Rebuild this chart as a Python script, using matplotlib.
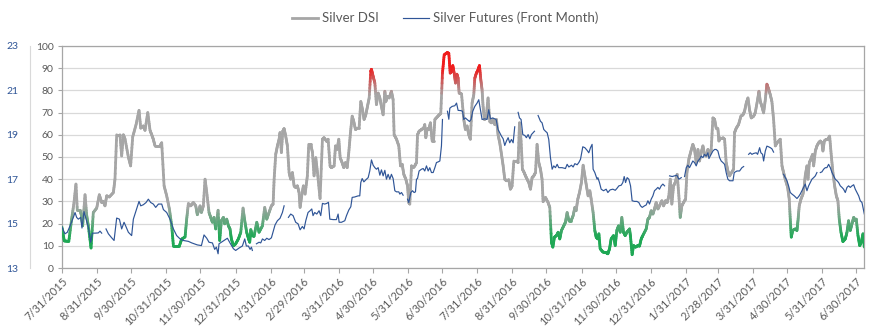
import numpy as np
import matplotlib
matplotlib.use("Agg")
import matplotlib.pyplot as plt
import matplotlib.dates as mdates
from matplotlib.collections import LineCollection
from matplotlib.lines import Line2D
from matplotlib.colors import to_rgb

plt.rcParams['font.family'] = ['Lato', 'DejaVu Sans']

nan = np.nan
start_date = np.datetime64('2015-07-31')

# ---- Silver DSI (days since 7/31/2015, value) ----
dsi_days = [0, 2, 6, 8.5, 10.6, 12.3, 13.5, 15.9, 17, 18.2, 20.3, 21.8, 23.2, 25.6, 27.6, 30.6, 32.9, 35, 36.4, 37.9,
            39.4, 41.7, 45.3, 46.7, 48.2, 51.1, 52.6, 54.1, 55.6, 58.5, 60.5, 62.3, 65.3, 67.9, 69.4, 71.7, 73.2, 75.6,
            77.6, 79.1, 80.5, 82, 86.4, 87.9, 90, 92.3, 94.7, 96.7, 98.2, 103.5, 105.5, 108.5, 109.9, 111.4, 113.5, 115.8,
            117.9, 119.3, 121.7, 122.9, 124.6, 126.1, 127.6, 129.6, 131.1, 132.6, 134, 135.5, 137.6, 139, 140.5, 142.3,
            143.4, 145.2, 146.7, 148.1, 149.3, 151.1, 153.1, 155.5, 157.6, 159.6, 161.1, 162.8, 164.3, 165.5, 166.4,
            167.8, 169.3, 171.7, 173.7, 176.7, 178.7, 180.5, 182.5, 184.6, 186.1, 187, 188.4, 189.9, 191.4, 192.2, 193.4,
            194.6, 195.8, 197.2, 198.7, 200.2, 201.6, 203.1, 204.6, 206, 207.5, 209, 209.9, 211.3, 212.8, 214.3, 216.3,
            217.5, 219.3, 220.8, 222.2, 223.7, 225.2, 227.5, 229.6, 231, 233.4, 234.6, 236.3,
            237.5, 239.9, 241.1, 242.5, 244, 245.2, 246.9, 248.4, 249.9, 251.4, 252.8, 254.3, 255.8, 257.2, 258.7, 260.5,
            261.9, 263.4, 264.9, 266.3, 267.8, 269.3, 270.8, 272.2, 272.8, 274.3, 275.8, 277.2, 278.7, 280.2, 281.6,
            283.1, 284.6, 285.5, 286.9, 288.4, 290.4, 291.9, 292.8, 294.9, 296.9, 298.4, 299.9, 301.3, 303.1, 304.6,
            305.7, 306.6, 308.1, 309.6, 311, 312.5, 313.4, 314.8, 316.9, 318.9, 319.8, 320.7, 321.9, 323.4, 324.8, 326.3,
            327.5, 328.7, 330.7, 332.5, 333.9, 335.4, 336.9, 339.5, 341, 342.2, 343.4, 344.5, 345.7, 346.9, 348.1, 349.2,
            350.1, 352.2,
            354.2, 355.6, 357.1, 358.6, 360, 361.5, 363, 363.9, 365.3, 366.8, 368, 369.2, 370.3, 371.2, 372.4, 373.9,
            375.6, 377.1, 378.6, 380, 381.5, 383, 384.4, 385.9, 387.4, 388.9, 390.3, 391.8, 393.9, 395.3, 396.8, 398.3,
            400.6, 402.1, 403.3, 404.7, 405.9, 407.4, 408.6, 410, 411.5, 413, 414.4, 415.9, 417.4, 418.8, 420.3, 421.8,
            423.2, 424.1, 426.2, 428.5, 430, 431.5, 432.7, 434.1, 435.9, 437.4, 438.8, 440.3, 442.3, 443.8, 445.3, 446.8,
            448.8, 450.6, 452.1, 453.2, 454.7, 456.2, 457.9, 459.4, 460.9, 462.3, 463.8, 465.3, 466.5, 468.2, 469.7,
            470.9, 472.4, 473.3, 474.4, 476.8, 479.7, 481.2, 482.7, 484.1, 486.2, 487.7, 489.1, 490.6, 492.1, 493.5, 495,
            496.5, 497.9, 499.4, 500.3, 501.2, 502.6, 503.8, 505.6, 507.6, 509.1, 510.6, 512, 515, 516.5, 517.9, 519.4,
            520.9, 522.3, 523.8, 525.3, 526.7, 528.8, 530.3, 532, 533.5, 535, 536.2, 537.6, 539.1, 540.6, 542.3, 543.8,
            545, 546.4, 547.9, 549.7, 550.9, 552.6, 554.1, 556.1, 557.6, 559.1, 560.6, 562, 563.5, 565, 566.4, 567.9,
            569.4, 570.8, 572.3, 573.8, 575.3, 576.7, 578.2, 579.1, 580.2, 581.4, 582.6, 584.1, 585.5, 587, 588.5,
            592, 592.9, 594.4, 596.4, 598.5, 600.3, 601.7, 603.2, 604.7, 606.1, 607.6, 609.7, 611.1, 613.2, 614.4, 615.6,
            617, 618.5, 620, 621.4, 622.9, 624.4, 625.8, 627.3, 628.8, 630.3, 631.7, 633.2, 634.7, 636.1, 637.6, 639.7,
            641.1, 642, 642.9, 644.1, 646.4, 647.9, 648.8, 649.9, 651.4, 653.2, 654.4, 655.2, 656.7, 657.6, 658.8, 660.2,
            661.7, 662.6, 664.1, 665.5, 667, 668.5, 669.9, 670.8, 672, 673.8, 675.2, 676.7, 678.2, 679.6, 681.1, 682.6,
            684, 685.2, 686.7, 688.4, 690.5, 692, 693.4, 694.9, 696.4, 697.9, 699.3, 700.2, 701.7, 703.2, 704.6, 706.1,
            707.3]
dsi_vals = [18.4, 12.2, 12, 22, 29.5, 37.8, 26, 26, 24, 19, 33, 23.6, 19, 9, 25, 27, 33, 29.5, 30, 28,
            32.5, 32, 34, 40, 60, 60, 50.5, 60, 58, 50, 46, 59, 64.6, 71, 63, 64, 62, 70,
            62, 60, 58, 55, 55, 56.4, 37, 32.5, 26.5, 19, 10, 10, 13, 14, 22, 29, 28, 29.5,
            28, 24, 28, 25, 28, 40, 34, 25, 22.8, 20.6, 22.8, 17.6, 26, 12.4, 21.3, 22.8,
            19.9, 22, 19, 17.6, 13.1, 10, 10.9, 13.1, 16.1, 27, 21.3, 16.1, 13.4, 11.6, 17.3,
            14.6, 14.3, 20.6, 16.1, 19, 27.3, 22, 25, 28, 28.8, 40, 51.2, 55, 58, 61, 52,
            61.6, 62.8, 59.4, 55, 43, 40, 43, 37, 36.3, 37, 34, 27.3, 32.5, 37, 33.3, 41.5,
            55.7, 55.7, 52, 41.5, 49.7, 43, 31.3, 58, 58.7, 57, 58, 46,
            45.2, 46, 55, 53.4, 58, 49.7, 47.5, 45.2, 47.5, 45.2, 52, 61, 68.4, 66, 62.4, 63,
            63, 75, 71.3, 66.9, 69, 72.8, 76.6, 88.5, 89.5, 86.3, 83.3, 73.6, 78.8, 76.6, 72.8,
            69, 79.6, 75, 77.3, 76.6, 79.6, 75.8, 60, 58, 55, 46, 46.7, 42.2, 40, 37,
            29.5, 28.8, 46, 45.2, 46, 47.5, 60, 61.6, 62.4, 63, 64.6, 58.7, 62.7, 62.4, 65.4, 57.2,
            57.2, 66.9, 68, 69, 69.6, 87.8, 96, 97, 96.7, 87.8, 88.5, 91.2, 87.8, 83.3, 87.3, 85.5,
            78.8, 78.4,
            66.9, 62.4, 64, 60, 58, 74.3, 78, 85.5, 87.8, 89.3, 91.2, 84.8, 80.3, 72.8, 66.9, 67.6,
            76.6, 66, 65.4, 66.9, 64.6, 66.9, 60, 56.4, 51.3, 46, 40, 39.3, 39.7, 35.5, 37, 48.2,
            48.2, 47.5, 65.4, 57.2, 44.5, 43, 41.5, 40, 38.5, 35.5, 40.7, 41.5, 43, 55.7, 47.5, 44.5,
            40, 29.9, 31.8, 29.5, 27.3, 11.6, 9.4, 13.9, 14.6, 16.1, 13.1, 16.9, 19, 20.6, 25, 21.3,
            21.3, 23.6, 27.3, 25.8, 31, 34, 38.5, 46.3, 41.5, 37, 32.5, 34.8, 31, 25, 16.9,
            13.9, 13.1, 15.4, 8.7, 7.2, 6.9, 6.4, 8.7, 13.1, 14.6, 10.1, 16.9, 19, 16.1, 22.8, 16.1,
            14.6, 16.1, 16.9, 17.6, 13.9, 6, 10.1, 9.4, 10.1, 9.9, 13.1, 14.6, 17.6, 22, 22.8, 25.8,
            24.3, 26.6, 29.5, 26.6, 28, 30.3, 28, 30.3, 29.5, 32.5, 40, 28.8, 37, 38.5, 42.2, 32.5,
            22.8, 28, 29.5, 31, 43, 49, 52, 55.7, 53.4, 47.5, 53.4, 48.2, 52, 55, 51.2, 50.4,
            53.4, 51.2, 53.4, 67.6, 66.9, 63, 62.7, 57.2, 58.7, 58.7, 58.7, 58, 47.5, 43.7, 41.5,
            44.5, 61, 63, 64.6, 68.4, 69, 70.6, 74.3, 76.6, 71.3, 67.6, 68.4, 69.9, 75.8, 79.6, 75,
            72.8, 69.9, 75.8, 82.8, 80.6, 78, 75, 66.9, 55, 56.4, 57.2, 58, 46, 43, 40, 36.3,
            31, 22, 13.9, 16.9, 17.6, 16.9, 21.3, 28, 31, 33.3, 37, 41.5, 46, 40, 47.5, 49,
            51.2, 46, 52.7, 55, 56.4, 57.2, 56.4, 52.7, 57.2, 58, 58, 59.4, 50.4, 43, 37, 32.5,
            30.3, 22, 16.1, 11.9, 13.1, 16.1, 21.3, 16.9, 19.9, 22.8, 21.3, 22, 14.6, 10.1, 11.6, 15.4,
            9.4]

# ---- Silver Futures (Front Month) (days since 7/31/2015, price); nan = missing ----
fut_days = [0, 2.6, 4.7, 7.1, 10, 11.5, 12.9, 14.4, 16.5, 17.6, 19.4, 21.2, 23.2, 25.3, 26.8, 29.1, 32, 33.5, 35, 36.5,
            38.8, 40.9, 43.8, 45.9, 48.2, 50.6, 52.6, 54.7, 56.1, 58.5, 61.4, 62.9, 65.8, 67.9, 69.4, 71.7, 74.1, 76.1,
            78.2, 80.5, 82.6, 85, 87.9, 89.4, 92.3, 95.2, 98.2, 101.1, 104.1, 107, 111.4, 114.4,
            119.3, 122.9, 125.2, 127.6, 129.6, 132.6, 134.6, 136.1, 137.6, 138.4, 140.5, 142.9, 145.8, 148.1, 151.1,
            153.1, 156.1, 159, 161.1, 162.5, 164.3, 165.8, 167, 167.8, 169.5, 171.4, 173.7, 175.2, 176.7, 178.7, 180.5,
            182.5, 184.6, 186.1, 187.8, 189.9, 192.2, 194.3, 195.8, 197.5, 199.6, 201.6, 203.7, 206, 208.1, 209.9, 211.9,
            213.4, 214.9, 216.9, 218.7, 220.2, 221.3, 222.8, 224.6, 226.6, 228.1, 229.6, 231.6, 233.4, 234.9,
            236.1, 239, 241.9, 243.4, 244.3, 246.4, 249.3, 250.8, 252.8, 254.6, 255.8, 258.1, 261.1, 262.5, 263.4, 264.6,
            266.1, 268.4, 269.9, 271.3, 272.8, 274.3, 275.8, 277.2, 278.7, 280.2, 281.6, 283.1, 284.6, 286, 287.5, 289,
            290.4, 291.9, 293.4, 294.9, 296.9, 297.8, 299.3, 300.7, 302.5, 304.6, 305.7, 307.5, 309, 310.4, 311.6, 312.5,
            313.4, 314.8, 316.9, 318.4, 319.8, 321.3, 322.8, 324.2, 325.7, 327.2, 328.7, 330.1, 331.6, 333.1, 334.5,
            335.4, 337, 339.8, 341, 341.9, 343.9, 346.3, 347.8, 349.2, 351.6, 353.1,
            354.2, 355.6, 357.1, 359.2, 360.6, 362.1, 363.9, 365.9, 367.4, 368.9, 370.3, 372.7, 374.7, 376.2, 377.7,
            379.7, 381.5, 382.7, 384.4, 385.9, 387.4, 388.9, 390.3, 391.8, 393.3, 394.7, 396.2, 397.7, 399.1, 400.6,
            402.1, 403.3, 404.7, 406.2, 408, 409.4, 410.9, 412.4, 413.8, 415.3, 416.5, 418, 419.7, 421.8, 423.2, 424.7,
            426.2, 427.7, 429.1, 430.6, 432.1, 433.5, 435, 436.5, 437.9, 440.9, 443.8, 445.3, 446.8, 449.1, 450.6, 452.1,
            454.1, 455.6, 457.1, 459.1, 460.9, 462.9, 464.4, 465.9, 467.3, 468.2, 469.7, 471.7,
            472.4, 473.8, 475.3, 477.4, 479.7, 481.2, 483.2, 485.6, 487.7, 489.1, 490.9, 493, 494.4, 495.6, 496.8, 498.2,
            499.7, 501.2, 502.6, 504.7, 506.8, 508.5, 510, 511.5, 513.5, 515, 516.5, 517.9, 519.4, 520.9, 522.3, 523.8,
            525.3, 526.7, 528.2, 529.7, 531.2, 533, 535.6, 537.9, 540, 542, 543.8, 545.9, 547.5, 548.8, 550.3, 551.7,
            553.2, 554.7, 556.1, 557.6, 559.1, 560.6, 562, 563.5, 565, 566.4, 567.9, 569.4, 570.3, 572.3, 573.8, 575.3,
            576.7, 578.2, 579.7, 581.1, 582.6, 584.1, 585.5, 587, 588.5,
            591.5, 592.6, 595, 597.3, 599.4, 600.9, 603, 605.3, 606.7, 608.2, 609.7, 612, 613.2, 615, 616.1, 617.6, 618.5,
            620, 621.4, 622.9, 624.4, 625.8, 627.3, 631.5, 636.1, 637.6, 639.1, 640.5, 642, 643.5, 645.5, 647.9, 649.4,
            650.8, 652.3, 653.8, 655.2, 656.7, 658.2, 659.6, 661.1, 662.6, 664.1, 665.5, 667, 668.5, 669.9, 671.4, 672.9,
            674.3, 675.8, 677.3, 678.8, 680.2, 681.7, 683.2, 684.6, 686.1, 687.6, 689, 690.5, 692, 693.4, 694.9, 696.4,
            697.9, 699.3, 700.8, 702.3, 703.7, 705.2, 706.1, 707.3]
fut_vals = [14.84, 14.54, 14.61, 14.90, 15.28, 15.50, 15.28, 15.20, 15.28, 14.80, 15.54, 15.20, 14.84, 14.16, 14.57,
            14.57, 14.58, 14.66, 14.57, nan,
            14.76, 14.54, 14.36, 14.24, 15.25, 15.20, 14.76, 15.06, 14.90, 14.61, 14.46, 15.20, 15.66, 16.00, 15.80,
            15.85, 15.95, 16.10, 15.95, 15.88, 15.73, 15.88, 15.88, 15.63, 15.50, 15.20, 14.76, 14.46, 14.31, 14.24,
            14.20, 14.13,
            14.04, 14.01, 14.49, 14.34, 14.16, 14.13, 13.84, 13.94, 13.64, 14.09, 14.16, 14.24, 14.34, 14.13, 13.87,
            13.79, 13.90, 13.99, 14.31, 13.99, 13.99, 13.84, 13.94, 13.79, nan, 14.09, 14.16, 14.13, 14.31, 14.24, 14.34,
            14.28, 14.36, 14.64, 14.94, 15.13, 15.24, 15.50, 15.80, nan, 15.28, 15.43, 15.36, 15.06, 14.99, 14.72, 14.87,
            14.76, 15.13, 15.50, 15.58, 15.66, 15.36, 15.50, 15.43, 15.58, 15.36, 15.91, 15.88, 15.91, 15.96,
            15.20, 15.18, 15.18, 15.43, 15.06, 15.06, 15.13, 15.36, 15.61, 15.76, 16.18, 16.20, 16.25, 16.25, 16.85, 17.03,
            16.88, 17.00, 17.07, 17.37, 17.87, 17.63, 17.52, 17.45, 17.52, 17.18, 17.42, 17.15, 17.40, 17.00, 17.22, 17.00,
            17.22, 17.03, 16.48, 16.43, 16.43, 16.33, 16.40, 16.28, nan, 16.10, 15.95, 16.40, 16.48, 16.40, 16.43, 17.00,
            17.03, 17.37, 17.45, 17.48, 17.37, 17.60, 17.37, 17.52, 17.30, 17.30, 17.52, 17.75, 17.78, 17.82, 18.50,
            19.69, nan, 20.06, 19.70, 20.20, 20.28, 20.31, 20.43, 20.10, 20.09, 20.06,
            19.69, 19.76, 19.69, 19.60, 19.69, 20.06, 20.28, 20.43, 20.58, 20.13, 19.69, 19.72, 19.69, 20.13, 19.72,
            19.76, 19.72, 19.69, 19.24, 19.09, 18.94, 18.82, 18.52, 18.72, 18.87, 18.64, 18.79, 18.64, 19.36, nan,
            20.01, 19.76, 19.69, 19.01, 18.97, 18.87, 19.01, 18.82, 19.01, 19.09, 19.16, nan, 19.87, 19.61, 19.54, 19.24,
            19.16, 19.09, 18.79, 17.97, 17.45, 17.60, 17.52, 17.67, 17.52, 17.52, 17.48, 17.67, 17.55, 17.63, 17.55, 17.70,
            17.65, 17.75, 17.90, 18.46, 18.42, 18.30, 18.19, 18.42, 18.57, 17.45, 17.30, 17.00,
            17.07, 16.85, 16.55, 16.48, 16.55, 16.40, 16.52, 16.55, 16.50, 16.58, 16.70, 16.73, 16.85, 17.12, 16.85, 17.07,
            17.00, 16.70, 16.03, 16.00, 16.00, 15.95, 15.80, 15.73, 15.80, 15.84, 16.03, 15.88, 16.10, 16.25, 16.48, 16.55,
            16.63, 16.55, 16.70, 16.78, 16.70, nan, 17.15, 17.12, 17.15, 17.18, 17.00, 17.07, nan, 17.12, 17.52, 17.63,
            17.52, 17.67, 17.82, 17.75, 17.60, 17.82, 17.90, 18.04, 17.97, 18.12, 18.04, 18.19, 17.93, 18.12, 18.27, 18.34,
            18.34, 18.27, 17.97, 17.82, 17.75, 17.67, 17.30, 17.00, 16.93,
            16.93, 17.30, 17.37, 17.37, 17.52, 17.57, nan, 18.12, 18.19, 18.12, 18.16, 18.19, 18.12, 18.42, 18.19, 18.12,
            17.82, 18.27, 18.49, 18.46, 18.42, 18.37, 18.22, nan, 17.22, 17.07, 16.93, 16.70, 16.40, 16.33, 16.25, 16.13,
            16.22, 16.33, 16.48, 16.63, 16.78, 16.48, 16.70, 16.85, 17.00, 17.07, 17.15, 17.30, nan, 17.30, 17.33, 17.45,
            17.52, 17.52, 17.67, 17.52, 17.30, 17.15, 17.00, 16.93, 16.85, 16.70, 16.63, 16.55, 16.40, 16.63, 16.70, 16.63,
            16.70, 16.75, 16.55, 16.40, 16.25, 16.03, 15.95, 15.73, 15.43]

x_tick_labels = ["7/31/2015", "8/31/2015", "9/30/2015", "10/31/2015", "11/30/2015", "12/31/2015",
                 "1/31/2016", "2/29/2016", "3/31/2016", "4/30/2016", "5/31/2016", "6/30/2016",
                 "7/31/2016", "8/31/2016", "9/30/2016", "10/31/2016", "11/30/2016", "12/31/2016",
                 "1/31/2017", "2/28/2017", "3/31/2017", "4/30/2017", "5/31/2017", "6/30/2017"]
dsi_ticks = [0, 10, 20, 30, 40, 50, 60, 70, 80, 90, 100]
fut_ticks = [13, 15, 17, 19, 21, 23]
x_end_days = 707

# ---- helpers ----
base = mdates.date2num(start_date.astype('datetime64[D]').item())
def to_x(days):
    return base + np.asarray(days, dtype=float)

def tick_pos(lbl):
    m, d, y = [int(p) for p in lbl.split('/')]
    return mdates.date2num(np.datetime64(f"{y:04d}-{m:02d}-{d:02d}").item())

GRAY = np.array(to_rgb('#A6A6A6'))
GREEN = np.array(to_rgb('#1FA855'))
RED = np.array(to_rgb('#F01C1C'))
BLUE = '#2F5597'
TXT = '#595959'

def dsi_color(v):
    if v >= 78:
        t = min((v - 78) / 12.0, 1.0)
        return (1 - t) * GRAY + t * RED
    if v <= 28:
        t = min((28 - v) / 14.0, 1.0)
        return (1 - t) * GRAY + t * GREEN
    return GRAY

# ---- figure ----
fig = plt.figure(figsize=(8.88, 3.36), dpi=100)
ax = fig.add_axes([62 / 888, 68 / 336, 802 / 888, 222 / 336])

xs = to_x(dsi_days)
ys = np.asarray(dsi_vals, dtype=float)
segs, cols = [], []
n = 8
for i in range(len(xs) - 1):
    for k in range(n):
        t0, t1 = k / n, (k + 1) / n
        xa, xb = xs[i] + (xs[i + 1] - xs[i]) * t0, xs[i] + (xs[i + 1] - xs[i]) * t1
        ya, yb = ys[i] + (ys[i + 1] - ys[i]) * t0, ys[i] + (ys[i + 1] - ys[i]) * t1
        segs.append([(xa, ya), (xb, yb)])
        cols.append(dsi_color((ya + yb) / 2))
lc = LineCollection(segs, colors=cols, linewidths=2.0, capstyle='round', joinstyle='round', zorder=3)
ax.add_collection(lc)

ax.set_xlim(base, base + x_end_days)
ax.set_ylim(0, 100)
ax.set_yticks(dsi_ticks)
ax.yaxis.grid(True, color='#D9D9D9', linewidth=0.9)
ax.set_axisbelow(True)
for s in ax.spines.values():
    s.set_color('#A6A6A6')
    s.set_linewidth(0.9)
ax.tick_params(axis='y', length=3, width=0.8, color='#A6A6A6', labelcolor=TXT, labelsize=7.5, pad=3)
ax.set_xticks([tick_pos(l) for l in x_tick_labels])
ax.set_xticklabels(x_tick_labels, rotation=45, ha='right', rotation_mode='anchor')
ax.tick_params(axis='x', length=3.5, width=0.8, color='#A6A6A6', labelcolor=TXT, labelsize=8, pad=2)

# secondary axis (futures), shown at far left
ax2 = ax.twinx()
ax2.plot(to_x(fut_days), fut_vals, color=BLUE, linewidth=0.85, zorder=4)
ax2.set_ylim(13, 23)
ax2.set_yticks(fut_ticks)
ax2.yaxis.tick_left()
ax2.spines['left'].set_visible(True)
ax2.spines['left'].set_position(('outward', 23))
ax2.spines['left'].set_color('#D9D9D9')
for side in ('right', 'top', 'bottom'):
    ax2.spines[side].set_visible(False)
ax2.tick_params(axis='y', length=0, labelcolor=BLUE, labelsize=7.5, pad=8.5)
ax2.set_xlim(base, base + x_end_days)

handles = [Line2D([], [], color='#A6A6A6', linewidth=2.0),
           Line2D([], [], color=BLUE, linewidth=0.85)]
fig.legend(handles, ['Silver DSI', 'Silver Futures (Front Month)'], loc='center',
           bbox_to_anchor=(445 / 888, 1 - 18 / 336), ncol=2, frameon=False,
           fontsize=9.5, labelcolor=TXT, handlelength=2.0, handletextpad=0.3, columnspacing=1.8)

fig.savefig('out.png', dpi=100)
